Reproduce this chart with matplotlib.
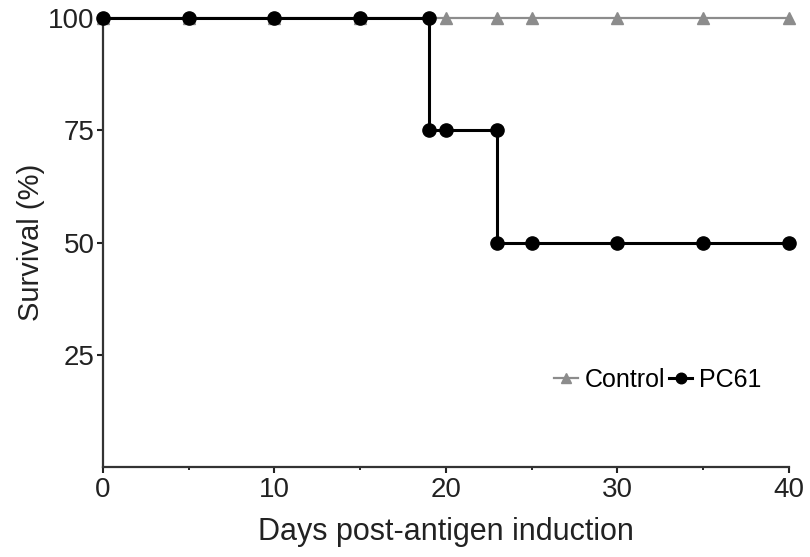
import numpy as np
import matplotlib.pyplot as plt

plt.rcParams['font.family'] = ['Liberation Sans', 'DejaVu Sans']

# Control group: no deaths
ctrl_days = [0, 5, 10, 15, 20, 23, 25, 30, 35, 40]
ctrl_surv = [100, 100, 100, 100, 100, 100, 100, 100, 100, 100]

# PC61 group (step function, vertical drops at day 19 and 23)
pc_days = [0, 5, 10, 15, 19, 19, 20, 23, 23, 25, 30, 35, 40]
pc_surv = [100, 100, 100, 100, 100, 75, 75, 75, 50, 50, 50, 50, 50]

fig = plt.figure(figsize=(8.1, 5.57), dpi=100)
ax = fig.add_axes([0.127, 0.1616, 0.847, 0.806])

ax.plot(ctrl_days, ctrl_surv, color='#8c8c8c', lw=1.6, marker='^', ms=9,
        label='Control', clip_on=False, zorder=2)
ax.plot(pc_days, pc_surv, color='black', lw=2.2, marker='o', ms=9.5,
        label='PC61', clip_on=False, zorder=3)

ax.set_xlim(0, 40)
ax.set_ylim(0, 100)
ax.set_xticks([0, 10, 20, 30, 40])
ax.set_xticks([5, 15, 25, 35], minor=True)
ax.set_yticks([25, 50, 75, 100])
ax.tick_params(axis='both', labelsize=20, width=1.5, length=4, colors='#222222')
ax.tick_params(axis='x', which='minor', length=2.5, width=1.2)
ax.tick_params(axis='y', pad=2)

for s in ['top', 'right']:
    ax.spines[s].set_visible(False)
for s in ['left', 'bottom']:
    ax.spines[s].set_linewidth(1.6)
    ax.spines[s].set_color('#333333')

ax.set_xlabel('Days post-antigen induction', fontsize=22, labelpad=10, color='#222222')
ax.set_ylabel('Survival (%)', fontsize=21, labelpad=2, color='#222222')

ax.legend(loc='center left', bbox_to_anchor=(0.64, 0.194), ncol=2, frameon=False,
          fontsize=18, handlelength=0.95, handletextpad=0.25, columnspacing=0.15,
          markerscale=0.8, borderpad=0)

fig.savefig('out.png', dpi=100)
